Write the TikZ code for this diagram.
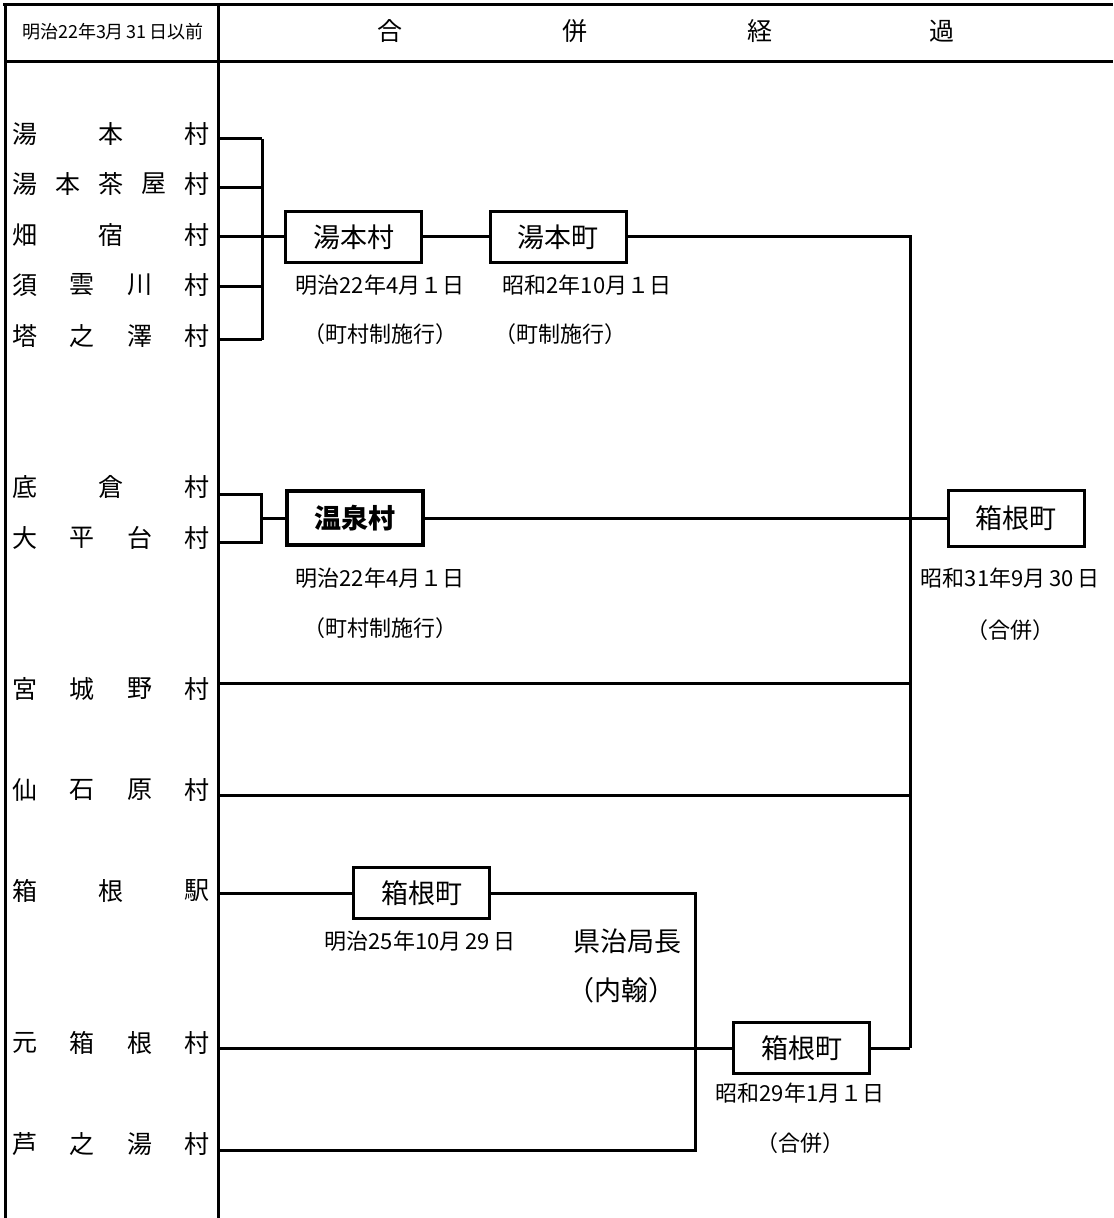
\documentclass[tikz,border=0pt]{standalone}
\usepackage{fontspec}
\setmainfont{Noto Sans CJK JP}
\usetikzlibrary{positioning}

\newcommand{\meiline}[4]{%
  \foreach \c [count=\i] in {#4}
    \node[mei] (#1-\i) at ({25+(\i-1)*172/(#3-1)},#2) {\c};}

\begin{document}
\begin{tikzpicture}[x=0.5pt,y=-0.5pt,line width=1.5pt,
    box/.style={draw,line width=1.5pt,minimum width=68pt,minimum height=25.5pt,
      inner sep=0pt,font=\fontsize{13.5}{15}\selectfont},
    note/.style={font=\fontsize{11}{12}\selectfont},
    mei/.style={font=\fontsize{12.5}{14}\selectfont}]

  \useasboundingbox (0,0) rectangle (1113,1218);

  \draw (3,5) -- (1113,5);
  \draw (5,62) -- (1113,62);
  \draw (5,5) -- (5,1218);
  \draw (218,5) -- (218,1218);

  \node[font=\fontsize{9}{10}\selectfont] (head0) at (113,32) {明治22年3月\,31\,日以前};
  \node[mei] (head1) at (390,31) {合};
  \node[mei] (head2) at (575,31) {併};
  \node[mei] (head3) at (760,31) {経};
  \node[mei] (head4) at (942,31) {過};

  \meiline{yu}{134}{3}{湯,本,村}
  \meiline{ch}{184}{5}{湯,本,茶,屋,村}
  \meiline{ha}{235}{3}{畑,宿,村}
  \meiline{su}{285}{4}{須,雲,川,村}
  \meiline{to}{336}{4}{塔,之,澤,村}
  \meiline{so}{487}{3}{底,倉,村}
  \meiline{oh}{538}{4}{大,平,台,村}
  \meiline{mi}{689}{4}{宮,城,野,村}
  \meiline{se}{790}{4}{仙,石,原,村}
  \meiline{ek}{891}{3}{箱,根,駅}
  \meiline{mo}{1043}{4}{元,箱,根,村}
  \meiline{as}{1144}{4}{芦,之,湯,村}

  \coordinate (r1) at (218,139);
  \coordinate (r2) at (218,188);
  \coordinate (r3) at (218,237);
  \coordinate (r4) at (218,287);
  \coordinate (r5) at (218,340);
  \coordinate (r6) at (218,494);
  \coordinate (r7) at (218,542);
  \coordinate (r8) at (218,683);
  \coordinate (r9) at (218,795);
  \coordinate (r10) at (218,893);
  \coordinate (r11) at (218,1048);
  \coordinate (r12) at (218,1150);

  \node[box] (yumotoV) at (353.5,237) {湯本村};
  \node[box] (yumotoT) at (558,237) {湯本町};
  \node[box,line width=2pt,minimum height=27pt,font=\fontsize{13.5}{15}\selectfont\bfseries]
    (onsen) at (355,518) {温泉村};
  \node[box,minimum height=28pt] (hakone) at (1016,518) {箱根町};
  \node[box] (hakoneA) at (421.5,893) {箱根町};
  \node[box] (hakoneB) at (801.5,1048) {箱根町};

  \node[note] (d1) at (380,285) {明治22年4月１日};
  \node[note] (d2) at (380,334) {（町村制施行）};
  \node[note] (d3) at (587,285) {昭和2年10月１日};
  \node[note] (d4) at (560,334) {（町制施行）};
  \node[note] (d5) at (380,578) {明治22年4月１日};
  \node[note] (d6) at (380,628) {（町村制施行）};
  \node[note] (d7) at (1010,578) {昭和31年9月\,30\,日};
  \node[note] (d8) at (1010,630) {（合併）};
  \node[note] (d9) at (420,941) {明治25年10月\,29\,日};
  \node[box,draw=none] (d10) at (627,941) {県治局長};
  \node[box,draw=none] (d11) at (621,990) {（内翰）};
  \node[note] (d12) at (800,1093) {昭和29年1月１日};
  \node[note] (d13) at (800,1143) {（合併）};

  \coordinate (ga) at (262,139);
  \coordinate (gb) at (262,340);
  \coordinate (gc) at (261,494);
  \coordinate (gd) at (261,542);
  \coordinate (ge) at (261,518);
  \coordinate (m1) at (910,237);
  \coordinate (m2) at (910,1048);
  \coordinate (k1) at (695,893);
  \coordinate (k2) at (695,1150);

  \foreach \r in {r1,r2,r3,r4,r5}
    \draw (\r) -- (\r -| ga);
  \draw (ga) -- (gb);
  \draw (r3 -| ga) -- (yumotoV.west);
  \draw (yumotoV.east) -- (yumotoT.west);
  \draw (yumotoT.east) -- (m1) -- (m2);

  \draw (r6) -- (gc) -- (gd) -- (r7);
  \draw (ge) -- (onsen.west);
  \draw (onsen.east) -- (hakone.west);

  \draw (r8) -- (r8 -| m1);
  \draw (r9) -- (r9 -| m1);

  \draw (r10) -- (hakoneA.west);
  \draw (hakoneA.east) -- (k1) -- (k2) -- (r12);
  \draw (r11) -- (hakoneB.west);
  \draw (hakoneB.east) -- (m2);
\end{tikzpicture}
\end{document}
